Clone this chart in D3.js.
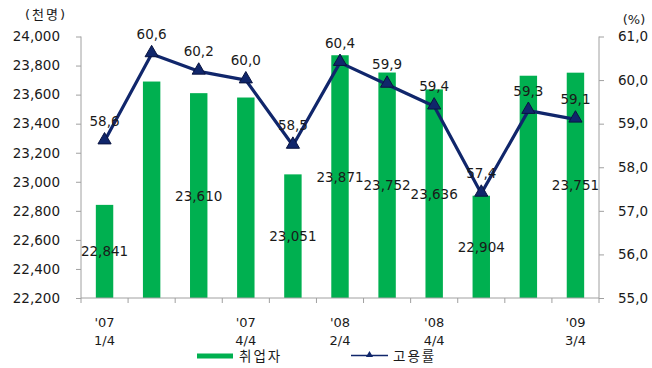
<!DOCTYPE html>
<html>
<head>
<meta charset="utf-8">
<script src="https://cdn.jsdelivr.net/npm/d3@7"></script>
<style>
  html, body { margin: 0; padding: 0; background: #fff; }
  svg { display: block; }
  text { font-family: "DejaVu Sans", "Noto Sans CJK KR", sans-serif; fill: #1a1a1a; }
  .kr { letter-spacing: 2px; }
</style>
</head>
<body>
<svg id="chart" width="652" height="368"></svg>
<script>
// Quarterly employment (thousand persons) and employment rate (%)
const quarters = ["'07 1/4", "'07 2/4", "'07 3/4", "'07 4/4", "'08 1/4", "'08 2/4",
                  "'08 3/4", "'08 4/4", "'09 1/4", "'09 2/4", "'09 3/4"];
const employed = [22841, 23690, 23610, 23580, 23051, 23871, 23752, 23636, 22904, 23730, 23751];
const employedShown = [true, false, true, false, true, true, true, true, true, false, true];
const rate = [58.6, 60.6, 60.2, 60.0, 58.5, 60.4, 59.9, 59.4, 57.4, 59.3, 59.1];
const leftTicks = [22200, 22400, 22600, 22800, 23000, 23200, 23400, 23600, 23800, 24000];
const rightTicks = [55, 56, 57, 58, 59, 60, 61];
const xLabels = { 0: ["'07", "1/4"], 3: ["'07", "4/4"], 5: ["'08", "2/4"], 7: ["'08", "4/4"], 10: ["'09", "3/4"] };
const seriesNames = ["취업자", "고용률"];

const svg = d3.select("#chart");
const plotL = 81, plotR = 599, plotT = 36.5, plotB = 298;
const axisColor = "#a0a0a0";
const barColor = "#00b050";
const lineColor = "#10266b";

const x = d3.scaleBand().domain(quarters).range([plotL, plotR]).paddingInner(0.63).paddingOuter(0.315);
const step = x.step();
const yL = d3.scaleLinear().domain([22200, 24000]).range([plotB, plotT]);
const yR = d3.scaleLinear().domain([55, 61]).range([plotB, plotT]);

const comma = v => d3.format(",")(v);
const pct = v => d3.format(".1f")(v).replace(".", ",");

// Bars
svg.append("g").selectAll("rect").data(employed).join("rect")
  .attr("x", (d, i) => x(quarters[i]))
  .attr("width", x.bandwidth())
  .attr("y", d => yL(d))
  .attr("height", d => plotB - yL(d))
  .attr("fill", barColor);

// Left axis
const gL = svg.append("g").attr("transform", `translate(${plotL},0)`)
  .call(d3.axisLeft(yL).tickValues(leftTicks).tickSize(5).tickPadding(16).tickFormat(comma));
gL.selectAll("path, line").attr("stroke", axisColor);
gL.select(".domain").attr("d", `M0,${plotT}V${plotB}`);
gL.selectAll("text").style("font-size", "13.5px").attr("fill", "#1a1a1a");

// Right axis
const gR = svg.append("g").attr("transform", `translate(${plotR},0)`)
  .call(d3.axisRight(yR).tickValues(rightTicks).tickSize(5).tickPadding(14).tickFormat(pct));
gR.selectAll("path, line").attr("stroke", axisColor);
gR.select(".domain").attr("d", `M0,${plotT}V${plotB}`);
gR.selectAll("text").style("font-size", "13.5px").attr("fill", "#1a1a1a");

// Bottom axis: ticks at category boundaries
const gB = svg.append("g");
gB.append("line").attr("x1", plotL).attr("x2", plotR).attr("y1", plotB).attr("y2", plotB).attr("stroke", axisColor);
gB.selectAll("line.tk").data(d3.range(quarters.length + 1)).join("line")
  .attr("class", "tk")
  .attr("x1", i => plotL + i * step).attr("x2", i => plotL + i * step)
  .attr("y1", plotB).attr("y2", plotB + 5).attr("stroke", axisColor);
Object.entries(xLabels).forEach(([i, lines]) => {
  const cx = x(quarters[+i]) + x.bandwidth() / 2;
  const t = gB.append("text").attr("text-anchor", "middle").style("font-size", "13px");
  t.append("tspan").attr("x", cx).attr("y", 327).text(lines[0]);
  t.append("tspan").attr("x", cx).attr("y", 345).text(lines[1]);
});

// Bar value labels (centred in bar)
svg.append("g").selectAll("text").data(employed.map((v, i) => ({ v, i })).filter(d => employedShown[d.i])).join("text")
  .attr("x", d => x(quarters[d.i]) + x.bandwidth() / 2)
  .attr("y", d => (yL(d.v) + plotB) / 2 + 5)
  .attr("text-anchor", "middle")
  .style("font-size", "13.5px")
  .text(d => comma(d.v));

// Rate line
const line = d3.line().x((d, i) => x(quarters[i]) + x.bandwidth() / 2).y(d => yR(d));
svg.append("path").datum(rate).attr("d", line)
  .attr("fill", "none").attr("stroke", lineColor).attr("stroke-width", 3.2).attr("stroke-linejoin", "round");

const tri = d3.symbol().type(d3.symbolTriangle).size(75);
svg.append("g").selectAll("path").data(rate).join("path")
  .attr("d", tri)
  .attr("transform", (d, i) => `translate(${x(quarters[i]) + x.bandwidth() / 2},${yR(d) - 1})`)
  .attr("fill", lineColor).attr("stroke", "#0a1440").attr("stroke-width", 1);

svg.append("g").selectAll("text").data(rate).join("text")
  .attr("x", (d, i) => x(quarters[i]) + x.bandwidth() / 2)
  .attr("y", d => yR(d) - 15)
  .attr("text-anchor", "middle")
  .style("font-size", "13.5px")
  .text(d => pct(d));

// Unit labels
svg.append("text").attr("class", "kr").attr("x", 46).attr("y", 19).attr("text-anchor", "middle").style("font-size", "13px").text("(천명)");
svg.append("text").attr("x", 634).attr("y", 24).attr("text-anchor", "middle").style("font-size", "13px").text("(%)");

// Legend
const lg = svg.append("g");
lg.append("rect").attr("x", 197).attr("y", 353.5).attr("width", 36).attr("height", 5).attr("fill", barColor);
lg.append("text").attr("class", "kr").attr("x", 239).attr("y", 361).style("font-size", "13.5px").text(seriesNames[0]);
lg.append("line").attr("x1", 351).attr("x2", 388).attr("y1", 355.5).attr("y2", 355.5).attr("stroke", lineColor).attr("stroke-width", 1.5);
lg.append("path").attr("d", d3.symbol().type(d3.symbolTriangle).size(22))
  .attr("transform", "translate(369.5,355)").attr("fill", lineColor);
lg.append("text").attr("class", "kr").attr("x", 393).attr("y", 361).style("font-size", "13.5px").text(seriesNames[1]);
</script>
</body>
</html>
